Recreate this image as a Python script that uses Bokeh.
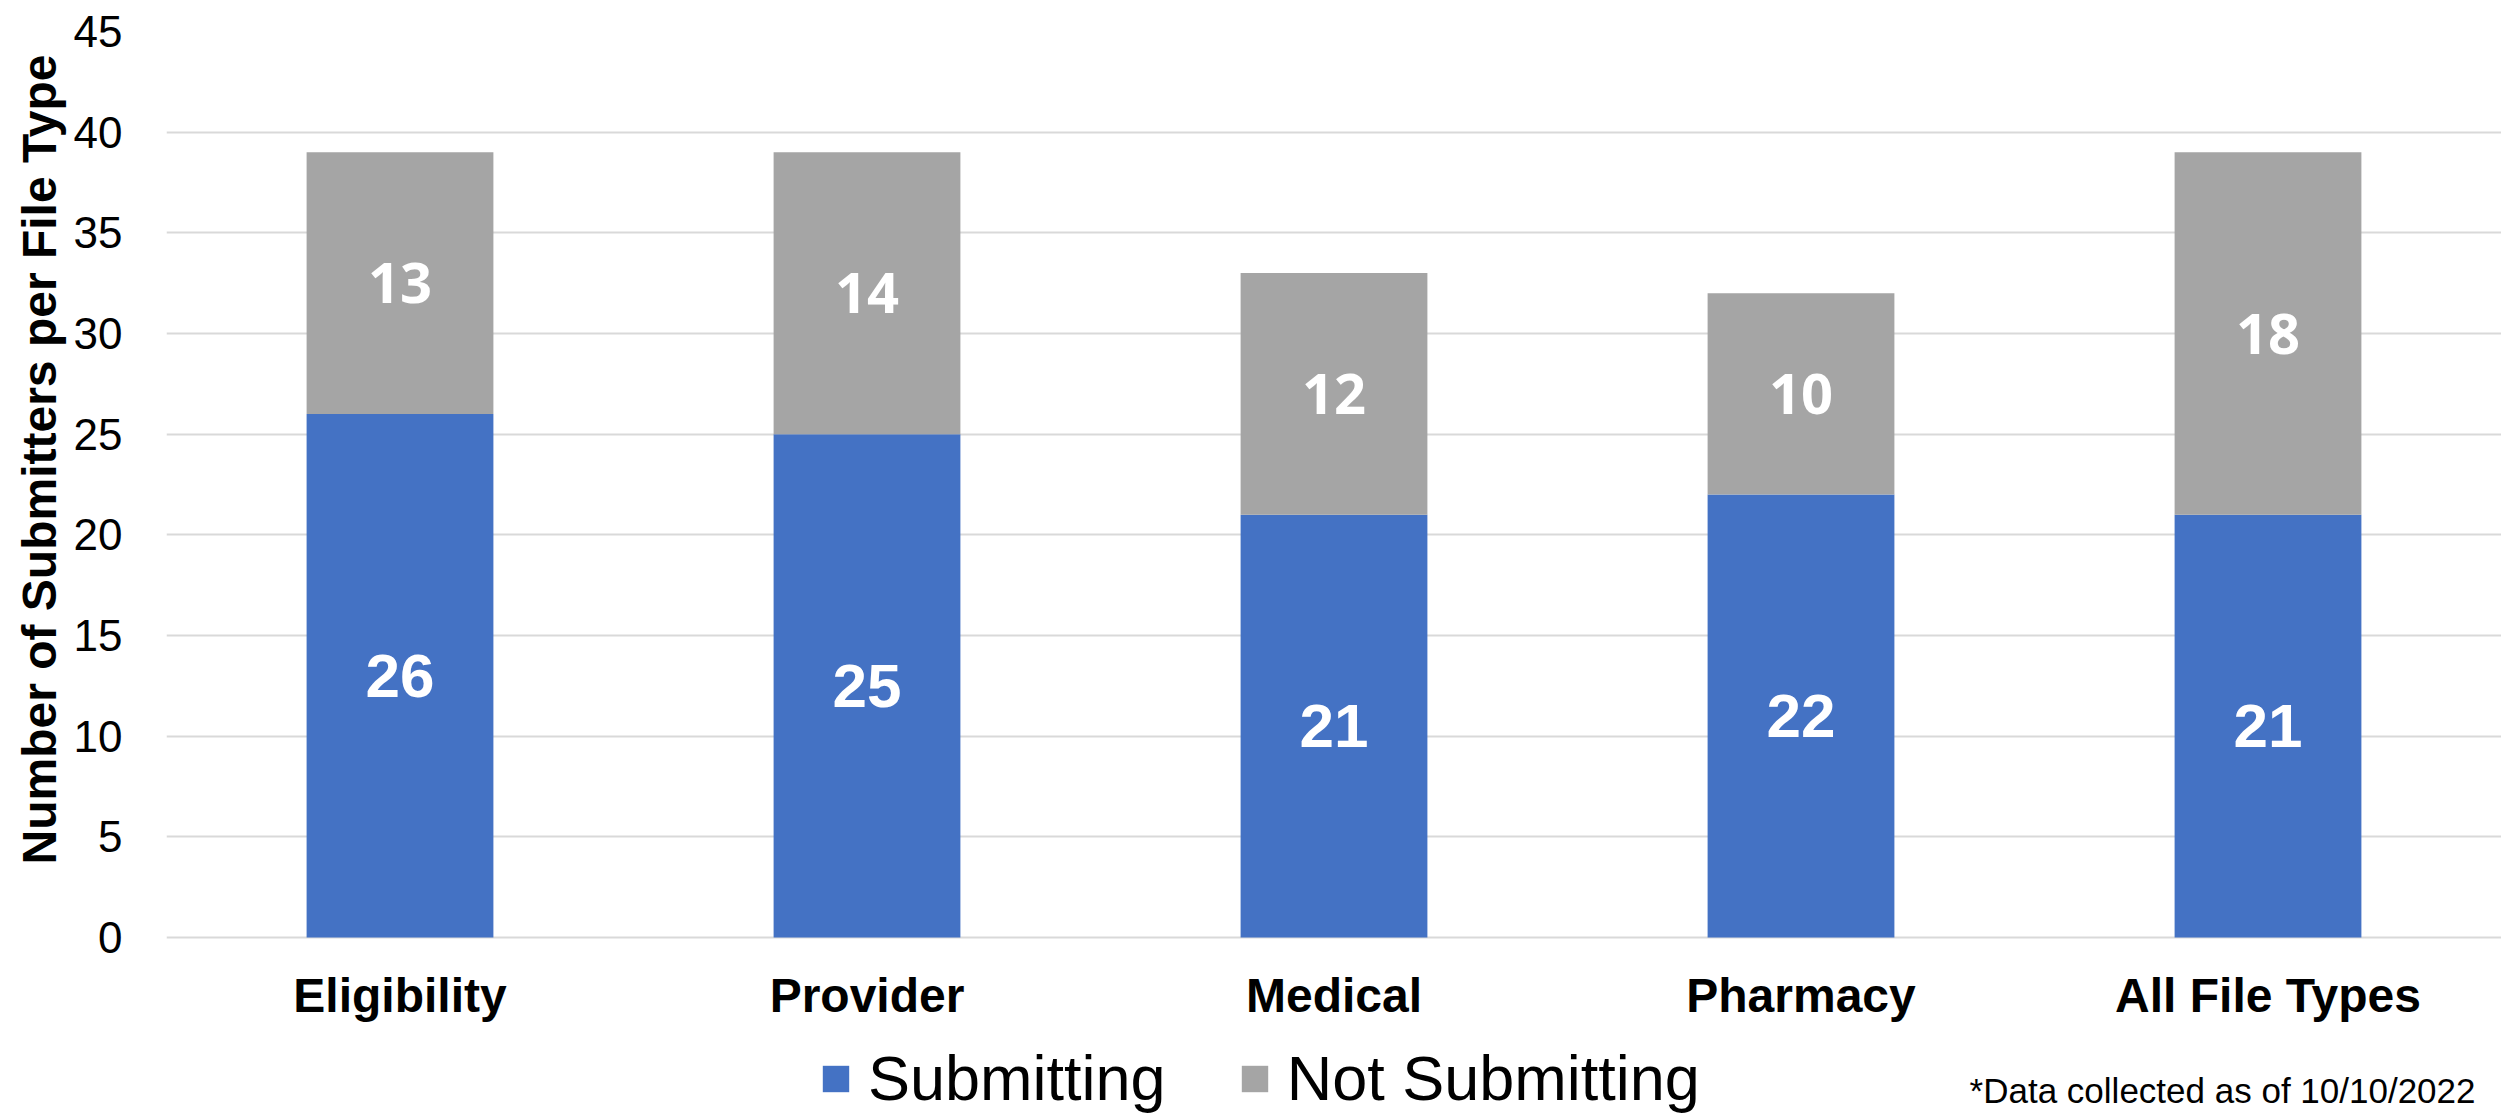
from bokeh.plotting import figure
from bokeh.models import (Range1d, FixedTicker, Legend, LegendItem, Label, Title,
                          ColumnDataSource, FactorRange)
from bokeh.core.properties import value
from bokeh.embed import file_html
from bokeh.resources import INLINE

# ---- data ----
categories = ["Eligibility", "Provider", "Medical", "Pharmacy", "All File Types"]
submitting = [26, 25, 21, 22, 21]
not_submitting = [13, 14, 12, 10, 18]
series = ["Submitting", "Not Submitting"]
colors = ["#4472C4", "#A5A5A5"]
y_ticks = [0, 5, 10, 15, 20, 25, 30, 35, 40, 45]
y_title = "Number of Submitters per File Type"
footnote = "*Data collected as of 10/10/2022"

# layout constants (pixels)
W, H = 2501, 1114
TOP, ZERO_Y = 31, 937
px_per_unit = (ZERO_Y - TOP) / y_ticks[-1]
y_bottom = -(H - ZERO_Y) / px_per_unit

src = ColumnDataSource(dict(
    cat=categories,
    Submitting=submitting,
    **{"Not Submitting": not_submitting},
    sub_mid=[s / 2 for s in submitting],
    not_mid=[s + n / 2 for s, n in zip(submitting, not_submitting)],
    sub_txt=[str(s) for s in submitting],
    not_txt=[str(n) for n in not_submitting],
))

p = figure(x_range=FactorRange(*categories), y_range=Range1d(y_bottom, y_ticks[-1]),
           width=W, height=H, output_backend="svg", toolbar_location=None,
           x_axis_location=None,
           min_border_left=166, min_border_right=0, min_border_top=TOP,
           min_border_bottom=0)
p.outline_line_color = None
p.background_fill_color = "white"
p.border_fill_color = "white"

rs = p.vbar_stack(series, x="cat", width=0.4, color=colors, line_color=None, source=src)

p.text(x="cat", y="sub_mid", text="sub_txt", source=src,
       text_font=value("Liberation Sans"), text_font_style="bold",
       text_font_size="62px", text_color="white",
       text_align="center", text_baseline="middle")
p.text(x="cat", y="not_mid", text="not_txt", source=src,
       text_font=value("Open Sans"), text_font_style="bold",
       text_font_size="56px", text_color="white",
       text_align="center", text_baseline="middle")

# category labels under the zero line
p.text(x=categories, y=[-31 / px_per_unit] * len(categories), text=categories,
       text_font=value("Liberation Sans"), text_font_style="bold",
       text_font_size="48px", text_color="black",
       text_align="center", text_baseline="top")

# grid
p.xgrid.grid_line_color = None
p.ygrid.grid_line_color = "#D9D9D9"
p.ygrid.grid_line_width = 2

# y axis
p.yaxis.ticker = FixedTicker(ticks=y_ticks)
p.yaxis.axis_line_color = None
p.yaxis.major_tick_line_color = None
p.yaxis.minor_tick_line_color = None
p.yaxis.major_tick_out = 0
p.yaxis.major_tick_in = 0
p.yaxis.major_label_standoff = 44
p.yaxis.major_label_text_font = "Liberation Sans"
p.yaxis.major_label_text_font_size = "44px"
p.yaxis.major_label_text_color = "black"

ytitle = Title(text=y_title, align="left", offset=H - 864,
               text_font="Liberation Sans", text_font_style="bold",
               text_font_size="48px", text_color="black", standoff=10)
p.add_layout(ytitle, "left")

legend = Legend(items=[LegendItem(label=series[i], renderers=[rs[i]]) for i in range(2)],
                location=(653, 0), orientation="horizontal",
                glyph_width=33, glyph_height=33, label_standoff=16, spacing=72,
                padding=0, margin=0, border_line_color=None, background_fill_alpha=0,
                label_text_font="Liberation Sans", label_text_font_size="63px",
                label_text_color="black")
p.add_layout(legend)

note = Label(x=2309, y=24, x_units="screen", y_units="screen", text=footnote,
             text_align="right", text_baseline="alphabetic",
             text_font="Liberation Sans", text_font_size="35px", text_color="black")
p.add_layout(note)

open("out.html", "w").write(file_html(p, INLINE))
